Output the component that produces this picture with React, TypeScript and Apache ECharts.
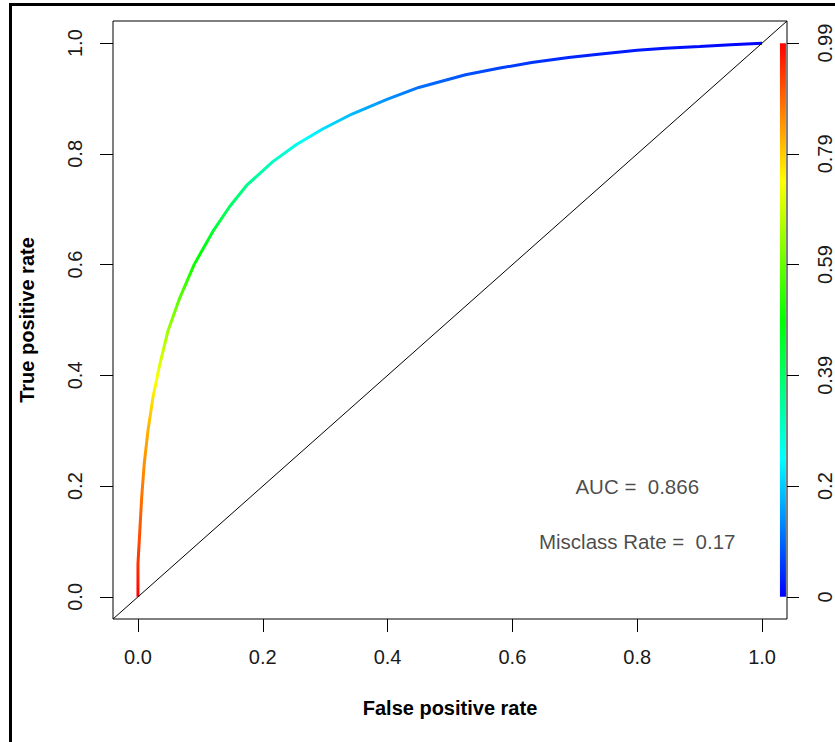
import React, { useEffect, useRef } from "react";
import * as echarts from "echarts";

// ROC curve
const fpr = [0, 0.0, 0.003, 0.006, 0.01, 0.016, 0.024, 0.035, 0.048, 0.067, 0.09, 0.12, 0.147, 0.174, 0.216, 0.254, 0.296, 0.343, 0.4, 0.45, 0.525, 0.58, 0.631, 0.69, 0.738, 0.8, 0.845, 0.9, 0.95, 1.0];
const tpr = [0, 0.06, 0.12, 0.18, 0.24, 0.3, 0.36, 0.42, 0.48, 0.54, 0.6, 0.66, 0.705, 0.743, 0.786, 0.817, 0.845, 0.872, 0.899, 0.92, 0.943, 0.955, 0.965, 0.974, 0.98, 0.987, 0.991, 0.994, 0.997, 1.0];
const cutoff = [0.99, 0.94, 0.91, 0.88, 0.85, 0.82, 0.77, 0.71, 0.65, 0.58, 0.51, 0.45, 0.4, 0.36, 0.31, 0.27, 0.22, 0.18, 0.14, 0.11, 0.08, 0.065, 0.05, 0.04, 0.03, 0.025, 0.02, 0.015, 0.01, 0.0];

const xTicks = [0, 0.2, 0.4, 0.6, 0.8, 1.0];
const yTicks = [0, 0.2, 0.4, 0.6, 0.8, 1.0];
const cutoffTickLabels = ["0", "0.2", "0.39", "0.59", "0.79", "0.99"];
const cutoffMax = 0.99;

const diagonal = [[-0.04, -0.04], [1.04, 1.04]];
const annotationPos = [[0.8, 0.2], [0.8, 0.1]];
const annotationTexts = ["AUC =  0.866", "Misclass Rate =  0.17"];

// layout constant: x position of the colour key (data units)
const COLORKEY_X = 1.0335;

const FONT = "'Liberation Sans', Arial, Helvetica, sans-serif";

function hueToHex(h: number): string {
  const hp = h / 60;
  const x = 1 - Math.abs((hp % 2) - 1);
  let r = 0, g = 0, b = 0;
  if (hp < 1) { r = 1; g = x; }
  else if (hp < 2) { r = x; g = 1; }
  else if (hp < 3) { g = 1; b = x; }
  else if (hp < 4) { g = x; b = 1; }
  else if (hp < 5) { r = x; b = 1; }
  else { r = 1; b = x; }
  const toH = (v: number) => Math.round(v * 255).toString(16).padStart(2, "0");
  return "#" + toH(r) + toH(g) + toH(b);
}

function cutoffColor(c: number): string {
  const f = Math.max(0, Math.min(1, c / cutoffMax));
  return hueToHex(240 * (1 - f));
}

function cutoffAtTpr(t: number): number {
  for (let i = 1; i < tpr.length; i++) {
    if (t <= tpr[i]) {
      const t0 = tpr[i - 1], t1 = tpr[i];
      const r = t1 === t0 ? 0 : (t - t0) / (t1 - t0);
      return cutoff[i - 1] + r * (cutoff[i] - cutoff[i - 1]);
    }
  }
  return cutoff[cutoff.length - 1];
}

export default function App() {
  const ref = useRef<HTMLDivElement>(null);

  useEffect(() => {
    if (!ref.current) return;
    const chart = echarts.init(ref.current, undefined, { renderer: "svg" });

    const rocData = fpr.map((x, i) => [x, tpr[i]]);
    const rocStops: string[] = [];
    for (let k = 0; k <= 100; k++) rocStops.push(cutoffColor(cutoffAtTpr(k / 100)));
    const keyStops: string[] = [];
    for (let k = 0; k <= 20; k++) keyStops.push(cutoffColor((k / 20) * cutoffMax));

    const axisLabelBase = { fontFamily: FONT, fontSize: 20, color: "#1a1a1a" };
    const titleStyle = { fontFamily: FONT, fontSize: 20, fontWeight: "bold", color: "#000" };

    chart.setOption({
      animation: false,
      backgroundColor: "#fff",
      grid: {
        left: 113,
        right: 47,
        top: 21,
        bottom: 123,
        show: true,
        borderColor: "#000",
        borderWidth: 1,
        backgroundColor: "transparent",
      },
      xAxis: {
        type: "value",
        min: -0.04,
        max: 1.04,
        name: "False positive rate",
        nameLocation: "middle",
        nameGap: 79,
        nameTextStyle: titleStyle,
        axisLine: { show: false, onZero: false },
        axisTick: { show: true, inside: false, customValues: xTicks, length: 13, lineStyle: { color: "#000" } },
        axisLabel: { ...axisLabelBase, customValues: xTicks, margin: 28, formatter: (v: number) => v.toFixed(1) },
        splitLine: { show: false },
      },
      yAxis: [
        {
          type: "value",
          min: -0.04,
          max: 1.04,
          name: "True positive rate",
          nameLocation: "middle",
          nameGap: 76,
          nameRotate: 90,
          nameTextStyle: titleStyle,
          axisLine: { show: false, onZero: false },
          axisTick: { show: true, inside: false, customValues: yTicks, length: 13, lineStyle: { color: "#000" } },
          axisLabel: { ...axisLabelBase, customValues: yTicks, margin: 28, rotate: 90, formatter: (v: number) => v.toFixed(1) },
          splitLine: { show: false },
        },
        {
          type: "value",
          position: "right",
          min: -0.04,
          max: 1.04,
          axisLine: { show: false, onZero: false },
          axisTick: { show: true, inside: false, customValues: yTicks, length: 12, lineStyle: { color: "#000" } },
          axisLabel: {
            ...axisLabelBase,
            customValues: yTicks,
            margin: 28,
            rotate: 90,
            formatter: (v: number) => cutoffTickLabels[Math.round(v / 0.2)] ?? "",
          },
          splitLine: { show: false },
        },
      ],
      visualMap: [
        {
          type: "continuous",
          show: false,
          seriesIndex: 0,
          dimension: 1,
          min: 0,
          max: 1,
          inRange: { color: rocStops },
        },
        {
          type: "continuous",
          show: false,
          seriesIndex: 1,
          dimension: 1,
          min: 0,
          max: 1,
          inRange: { color: keyStops },
        },
      ],
      graphic: [
        {
          type: "rect",
          shape: { x: 10.5, y: 4.5, width: 1000, height: 1000 },
          style: { fill: "none", stroke: "#000", lineWidth: 3 },
          silent: true,
          z: 100,
        },
      ],
      series: [
        {
          type: "line",
          data: rocData,
          symbol: "none",
          lineStyle: { width: 3 },
          silent: true,
          z: 3,
        },
        {
          type: "line",
          data: [[COLORKEY_X, 0], [COLORKEY_X, 1]],
          symbol: "none",
          lineStyle: { width: 6, cap: "butt" },
          clip: false,
          silent: true,
          z: 3,
        },
        {
          type: "line",
          data: diagonal,
          symbol: "none",
          lineStyle: { width: 1, color: "#000" },
          silent: true,
          z: 4,
        },
        {
          type: "scatter",
          data: annotationPos,
          symbolSize: 0,
          silent: true,
          label: {
            show: true,
            position: "inside",
            fontFamily: FONT,
            fontSize: 20.5,
            color: "#1a1a1a",
            formatter: (p: any) => annotationTexts[p.dataIndex],
          },
          z: 5,
        },
      ],
    });

    return () => chart.dispose();
  }, []);

  return (
    <div
      ref={ref}
      style={{ position: "fixed", left: 0, top: 0, width: 835, height: 742, background: "#fff" }}
    />
  );
}
